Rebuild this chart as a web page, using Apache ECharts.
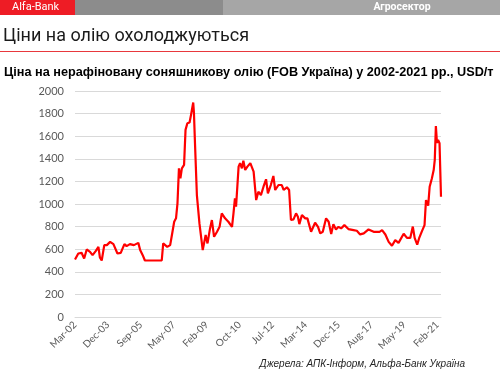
<!DOCTYPE html>
<html>
<head>
<meta charset="utf-8">
<script src="https://cdn.jsdelivr.net/npm/echarts@6/dist/echarts.min.js"></script>
<style>
html,body{margin:0;padding:0;background:#fff;}
#chart{width:500px;height:370px;}
</style>
</head>
<body>
<div id="chart"></div>
<script>
// Week index since Mar-2002 (weekly series)
const weeks = [0,9,18,25,32,41,48,57,64,68,73,80,87,96,105,116,125,135,141,150,161,173,178,185,191,237,241,252,260,264,271,276,280,284,288,292,298,302,307,313,317,323,325,328,333,336,340,349,353,357,362,369,374,380,388,395,401,410,419,429,433,437,440,447,451,456,460,465,471,479,488,495,501,508,515,522,527,535,542,547,556,565,570,579,585,590,597,604,609,613,620,629,635,645,656,664,670,677,686,693,700,706,713,720,727,736,747,761,770,779,789,802,816,832,839,848,857,866,875,884,898,907,916,923,928,935,940,948,955,959,965,969,975,980,983,986,989,992,996,1000];
const prices = [509,562,568,518,598,577,547,585,621,527,500,636,636,665,645,562,568,645,627,645,636,656,592,547,500,500,651,621,636,710,843,873,1006,1316,1228,1316,1346,1656,1715,1721,1789,1898,1804,1523,1079,1079,828,592,607,725,651,784,858,710,754,798,917,873,843,798,917,1050,976,1331,1361,1316,1384,1301,1331,1361,1286,1035,1109,1079,1153,1219,1094,1168,1248,1124,1168,1168,1124,1148,1124,858,864,917,887,822,902,873,873,754,834,798,740,754,873,843,734,822,775,798,784,813,778,769,763,731,740,775,754,754,769,730,665,630,680,656,737,700,700,800,700,640,695,760,813,1035,985,1153,1225,1300,1390,1690,1540,1567,1538,1064];
const tickWeeks = [0,90,180,270,360,450,540,630,720,810,900,990];
const tickLabels = ['Mar-02','Dec-03','Sep-05','May-07','Feb-09','Oct-10','Jul-12','Mar-14','Dec-15','Aug-17','May-19','Feb-21'];

const chart = echarts.init(document.getElementById('chart'), null, {renderer:'canvas'});
const seriesData = weeks.map((w,i)=>[w, prices[i]]);

chart.setOption({
  animation:false,
  backgroundColor:'#ffffff',
  grid:{left:75, right:59, top:91, bottom:53},
  xAxis:{
    type:'value', min:0, max:1000,
    splitLine:{show:false},
    axisLine:{show:true, lineStyle:{color:'#d9d9d9'}},
    axisTick:{show:false},
    axisLabel:{
      customValues: tickWeeks,
      rotate:45, color:'#595959', fontSize:10, fontFamily:'Lato', margin:6,
      formatter:(v)=>{ const i = tickWeeks.indexOf(v); return i>=0 ? tickLabels[i] : ''; }
    }
  },
  yAxis:{
    type:'value', min:0, max:2000, interval:200,
    axisLine:{show:false}, axisTick:{show:false},
    splitLine:{lineStyle:{color:'#d9d9d9', width:1}},
    axisLabel:{color:'#595959', fontSize:11, fontFamily:'Lato', margin:11, formatter:(v)=>String(v)}
  },
  series:[{
    type:'line', data:seriesData, showSymbol:false,
    lineStyle:{color:'#ff0000', width:2.2},
    itemStyle:{color:'#ff0000'}
  }],
  graphic:[
    {type:'rect', shape:{x:0,y:0,width:75,height:15}, style:{fill:'#ee1c25'}},
    {type:'rect', shape:{x:75,y:0,width:148,height:15}, style:{fill:'#8c8c8c'}},
    {type:'rect', shape:{x:223,y:0,width:277,height:15}, style:{fill:'#a6a6a6'}},
    {type:'text', x:12, y:7.5, style:{text:'Alfa-Bank', fill:'#ffffff', font:'11px Roboto', verticalAlign:'middle'}},
    {type:'text', x:402, y:7.5, style:{text:'Агросектор', fill:'#ffffff', font:'bold 10.5px Roboto', align:'center', verticalAlign:'middle'}},
    {type:'text', x:3, y:36, style:{text:'Ціни на олію охолоджуються', fill:'#1a1a1a', font:'18px Roboto', verticalAlign:'middle'}},
    {type:'rect', shape:{x:0,y:51,width:500,height:1}, style:{fill:'#e8383d'}},
    {type:'text', x:4, y:72, style:{text:'Ціна на нерафіновану соняшникову олію (FOB Україна) у 2002-2021 рр., USD/т', fill:'#000000', font:'bold 12.7px "Liberation Sans"', verticalAlign:'middle'}},
    {type:'text', x:465, y:364, style:{text:'Джерела: АПК-Інформ, Альфа-Банк Україна', fill:'#262626', font:'italic 10px "Liberation Sans"', align:'right', verticalAlign:'middle'}}
  ]
});
</script>
</body>
</html>
